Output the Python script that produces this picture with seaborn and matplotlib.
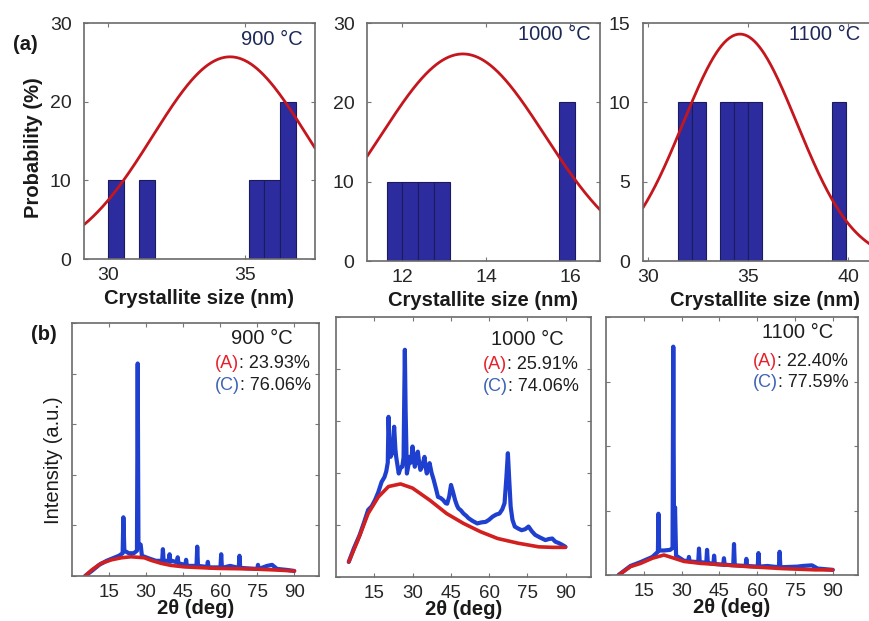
import numpy as np
import matplotlib
matplotlib.use("Agg")
import matplotlib.pyplot as plt
import seaborn as sns

sns.set_theme(style="white")
plt.rcParams["font.family"] = ["Liberation Sans", "DejaVu Sans"]

# ---- (a) crystallite size histograms (probability %, one entry per bar) ----
temps = ["900 °C", "1000 °C", "1100 °C"]

size_900 = [30.29, 31.43, 35.42, 35.99, 36.56]
prob_900 = [10, 10, 10, 10, 20]
size_1000 = [11.83, 12.20, 12.57, 12.95, 15.93]
prob_1000 = [10, 10, 10, 10, 20]
size_1100 = [31.85, 32.55, 33.95, 34.65, 35.35, 39.55]
prob_1100 = [10, 10, 10, 10, 10, 10]

hist_range = [(30.0, 36.84), (11.64, 16.12), (31.5, 39.9)]
hist_bins = [12, 12, 12]

# normal fit (histfit)
fit_mu = [34.45, 13.45, 34.6]
fit_sigma = [2.83, 1.95, 2.85]
fit_peak = [25.7, 26.1, 14.3]

size_xlim = [(29.12, 37.55), (11.17, 16.71), (29.75, 42.0)]
size_xticks = [[30, 35], [12, 14, 16], [30, 35, 40]]
prob_ylim = [30, 30, 15]
prob_yticks = [[0, 10, 20, 30], [0, 10, 20, 30], [0, 5, 10, 15]]

# ---- (b) XRD patterns: [2theta, intensity] ----
xrd_900_meas = np.array([
    [5.3, 0.0], [8, 0.1], [11, 0.22], [14, 0.3], [17, 0.36], [19, 0.4],
    [20.5, 0.45], [20.8, 1.16], [21.2, 0.5], [23, 0.45], [25, 0.45],
    [26.3, 0.5], [26.6, 4.2], [26.9, 0.62], [27.8, 0.62], [28.3, 0.4],
    [31, 0.35], [34, 0.3], [36.5, 0.3], [36.8, 0.53], [37.1, 0.3],
    [39.2, 0.3], [39.5, 0.43], [39.8, 0.28], [40.5, 0.3], [42.5, 0.27],
    [42.8, 0.37], [43.1, 0.25], [45.9, 0.22], [46.2, 0.32], [46.5, 0.2],
    [50.4, 0.2], [50.7, 0.58], [51.0, 0.2], [54.7, 0.18], [55.0, 0.28],
    [55.3, 0.17], [60.1, 0.17], [60.4, 0.43], [60.7, 0.16], [64, 0.2],
    [67.5, 0.16], [67.8, 0.4], [68.1, 0.16], [75.0, 0.14], [75.3, 0.22],
    [75.6, 0.14], [79, 0.2], [81, 0.22], [83, 0.14], [87, 0.12], [90, 0.1],
])
xrd_900_amor = np.array([
    [5.3, 0.0], [8, 0.12], [11.8, 0.25], [16, 0.32], [20, 0.36], [23.9, 0.38],
    [29.3, 0.36], [32, 0.31], [36.1, 0.25], [40, 0.21], [45.5, 0.18],
    [52, 0.165], [59.1, 0.15], [72.6, 0.14], [82, 0.12], [90, 0.1],
])

xrd_1000_meas = np.array([
    [5, 0.29], [7, 0.55], [9.3, 0.81], [11, 1.05], [12.6, 1.29], [14, 1.36],
    [15.3, 1.48], [16.5, 1.62], [17.9, 1.83], [19, 1.92], [19.7, 2.03],
    [20.3, 2.2], [20.6, 3.08], [21.0, 2.5], [21.4, 2.31], [22.2, 2.4],
    [22.8, 2.89], [23.3, 2.45], [23.6, 2.31], [24.6, 1.99], [25.3, 2.1],
    [26.0, 2.12], [26.5, 2.3], [26.8, 3.6], [27.0, 4.37], [27.3, 3.2],
    [27.8, 1.99], [28.4, 2.15], [28.9, 2.31], [29.5, 2.2], [30.0, 2.51],
    [30.5, 2.3], [30.9, 2.12], [31.6, 2.3], [32.1, 2.41], [32.6, 2.2],
    [33.1, 2.06], [33.9, 2.15], [34.7, 2.31], [35.2, 2.1], [35.6, 1.99],
    [36.2, 2.1], [36.7, 2.19], [37.5, 2.0], [38.3, 1.87], [39.2, 1.7],
    [40.0, 1.54], [41.0, 1.52], [42.0, 1.48], [43.0, 1.42], [43.6, 1.41],
    [44.4, 1.55], [45.1, 1.77], [45.8, 1.65], [46.7, 1.48], [47.4, 1.38],
    [48.0, 1.32], [49.0, 1.28], [50.0, 1.22], [51.0, 1.18], [52.0, 1.13],
    [53.5, 1.08], [55.4, 1.03], [57.0, 1.05], [58.7, 1.06], [60.0, 1.1],
    [61.4, 1.16], [62.8, 1.2], [64.1, 1.22], [65.2, 1.3], [66.1, 1.42],
    [66.8, 1.9], [67.4, 2.38], [67.9, 1.9], [68.5, 1.35], [69.2, 1.1],
    [70.1, 0.97], [71.5, 0.93], [72.8, 0.9], [74.2, 0.92], [75.5, 0.97],
    [76.8, 0.88], [78.1, 0.81], [80.0, 0.76], [82.1, 0.71], [83.5, 0.73],
    [84.8, 0.74], [86.0, 0.68], [87.5, 0.65], [89.0, 0.61], [90.0, 0.58],
])
xrd_1000_amor = np.array([
    [5, 0.29], [8.6, 0.71], [12.6, 1.22], [16.6, 1.54], [20.6, 1.74],
    [25.3, 1.79], [30, 1.71], [36.7, 1.48], [43.4, 1.22], [50, 1.03],
    [56.7, 0.87], [63.4, 0.74], [71.4, 0.65], [79.5, 0.58], [85, 0.57],
    [90, 0.57],
])

xrd_1100_meas = np.array([
    [5, 0.0], [9.7, 0.14], [13.7, 0.2], [18.4, 0.28], [20.6, 0.36],
    [20.8, 0.95], [21.1, 0.38], [23, 0.38], [25.5, 0.39], [26.4, 0.42],
    [26.7, 3.54], [27.0, 0.6], [27.4, 1.05], [27.8, 0.3], [31, 0.22],
    [32.7, 0.22], [32.9, 0.28], [33.2, 0.21], [36.6, 0.2], [36.9, 0.41],
    [37.2, 0.2], [39.8, 0.19], [40.1, 0.39], [40.4, 0.19], [42.6, 0.17],
    [42.9, 0.3], [43.2, 0.17], [46.5, 0.16], [46.8, 0.26], [47.1, 0.16],
    [50.5, 0.15], [50.8, 0.48], [51.1, 0.15], [55.4, 0.14], [55.7, 0.25],
    [56.0, 0.14], [60.2, 0.13], [60.5, 0.34], [60.8, 0.13], [64, 0.14],
    [68.6, 0.12], [68.9, 0.36], [69.2, 0.12], [76, 0.13], [78, 0.14],
    [81.7, 0.15], [84, 0.1], [90, 0.08],
])
xrd_1100_amor = np.array([
    [5, 0.0], [9.7, 0.13], [13.7, 0.18], [18.4, 0.26], [23, 0.31], [27, 0.26],
    [31, 0.21], [37.7, 0.18], [45.7, 0.16], [56.4, 0.13], [69.7, 0.1],
    [83, 0.08], [90, 0.08],
])

amorphous_pct = ["23.93%", "25.91%", "22.40%"]
crystalline_pct = ["76.06%", "74.06%", "77.59%"]
xrd_ylim = [5, 5, 4]
xrd_xticks = [15, 30, 45, 60, 75, 90]

# ---- figure ----
W, H = 869, 621
fig = plt.figure(figsize=(W / 100, H / 100), dpi=100)
fig.patch.set_facecolor("white")


def px_axes(x0, y0, x1, y1):
    return fig.add_axes([x0 / W, 1 - y1 / H, (x1 - x0) / W, (y1 - y0) / H])


def style_axes(ax, labelsize):
    for s in ax.spines.values():
        s.set_color("#6b6b6b")
        s.set_linewidth(1.2)
    ax.tick_params(direction="in", length=3, width=0.8, color="#777777",
                   top=True, right=True, left=True, bottom=True,
                   labelsize=labelsize, labelcolor="#262626")
    ax.set_facecolor("white")


bar_color = "#2c2c9e"
bar_edge = "#1a1a5e"
fit_red = "#c4161c"
meas_blue = "#1f3fcf"
amor_red = "#d21f1f"

top_boxes = [(84, 23, 315, 259), (367, 23, 600, 261), (643, 23, 888, 261)]
temp_pos_top = [(0.812, 0.928), (0.805, 0.950), (0.743, 0.950)]
sizes = [size_900, size_1000, size_1100]
probs = [prob_900, prob_1000, prob_1100]

for i in range(3):
    ax = px_axes(*top_boxes[i])
    sns.histplot(x=sizes[i], weights=probs[i], bins=hist_bins[i],
                 binrange=hist_range[i], color=bar_color, edgecolor=bar_edge,
                 linewidth=0.8, alpha=1, ax=ax)
    xs = np.linspace(size_xlim[i][0], size_xlim[i][1], 300)
    ys = fit_peak[i] * np.exp(-(xs - fit_mu[i]) ** 2 / (2 * fit_sigma[i] ** 2))
    sns.lineplot(x=xs, y=ys, color=fit_red, linewidth=2.0, ax=ax)
    ax.set_xlim(*size_xlim[i])
    ax.set_ylim(0, prob_ylim[i])
    ax.set_xticks(size_xticks[i])
    ax.set_yticks(prob_yticks[i])
    style_axes(ax, 14)
    ax.tick_params(axis="x", pad=6)
    ax.tick_params(axis="y", pad=9)
    ax.set_xlabel("Crystallite size (nm)", fontsize=14.5, fontweight="bold",
                  color="#1a1a1a", labelpad=3.5)
    ax.set_ylabel("")
    ax.text(*temp_pos_top[i], temps[i], transform=ax.transAxes, ha="center",
            va="center", fontsize=14.5, color="#1c2858")
    if i == 0:
        ax.set_ylabel("Probability (%)", fontsize=14.5, fontweight="bold",
                      color="#1a1a1a")
        ax.yaxis.set_label_coords(-0.177, 0.47)

bot_boxes = [(72, 323, 319, 576), (336, 317, 591, 577), (606, 317, 858, 575)]
temp_pos_bot = [(0.767, 0.937), (0.751, 0.912), (0.762, 0.938)]
pct_x = [0.579, 0.576, 0.583]
pct_y = [(0.838, 0.751), (0.819, 0.731), (0.829, 0.748)]
meas = [xrd_900_meas, xrd_1000_meas, xrd_1100_meas]
amor = [xrd_900_amor, xrd_1000_amor, xrd_1100_amor]

for i in range(3):
    ax = px_axes(*bot_boxes[i])
    sns.lineplot(x=meas[i][:, 0], y=meas[i][:, 1], sort=False, estimator=None,
                 color=meas_blue, linewidth=3.0, ax=ax)
    sns.lineplot(x=amor[i][:, 0], y=amor[i][:, 1], sort=False, estimator=None,
                 color=amor_red, linewidth=2.6, ax=ax)
    ax.set_xlim(0, 100)
    ax.set_ylim(0, xrd_ylim[i])
    ax.set_xticks(xrd_xticks)
    ax.set_yticks(range(xrd_ylim[i] + 1))
    style_axes(ax, 13.5)
    ax.tick_params(axis="y", labelleft=False)
    ax.tick_params(axis="x", pad=5.5)
    ax.set_xlabel("2θ (deg)", fontsize=14.5, fontweight="bold",
                  color="#1a1a1a", labelpad=-1)
    ax.set_ylabel("")
    ax.text(*temp_pos_bot[i], temps[i], transform=ax.transAxes, ha="center",
            va="center", fontsize=14.5, color="#1e1e1e")
    ta = ax.text(pct_x[i], pct_y[i][0], "(A)", transform=ax.transAxes,
                 ha="left", va="center", fontsize=13, color="#e8202a")
    ax.annotate(": " + amorphous_pct[i], xy=(1, 0.5), xycoords=ta,
                ha="left", va="center", fontsize=13, color="#1e1e1e")
    tc = ax.text(pct_x[i], pct_y[i][1], "(C)", transform=ax.transAxes,
                 ha="left", va="center", fontsize=13, color="#3d62b4")
    ax.annotate(": " + crystalline_pct[i], xy=(1, 0.5), xycoords=tc,
                ha="left", va="center", fontsize=13, color="#1e1e1e")
    if i == 0:
        ax.set_ylabel("Intensity (a.u.)", fontsize=14.5, color="#1a1a1a")
        ax.yaxis.set_label_coords(-0.036, 0.458)

fig.text(25 / W, 1 - 44 / H, "(a)", ha="center", va="center", fontsize=14.5,
         fontweight="bold", color="#1a1a1a")
fig.text(44 / W, 1 - 335 / H, "(b)", ha="center", va="center", fontsize=14.5,
         fontweight="bold", color="#1a1a1a")

fig.savefig("out.png", dpi=100)
